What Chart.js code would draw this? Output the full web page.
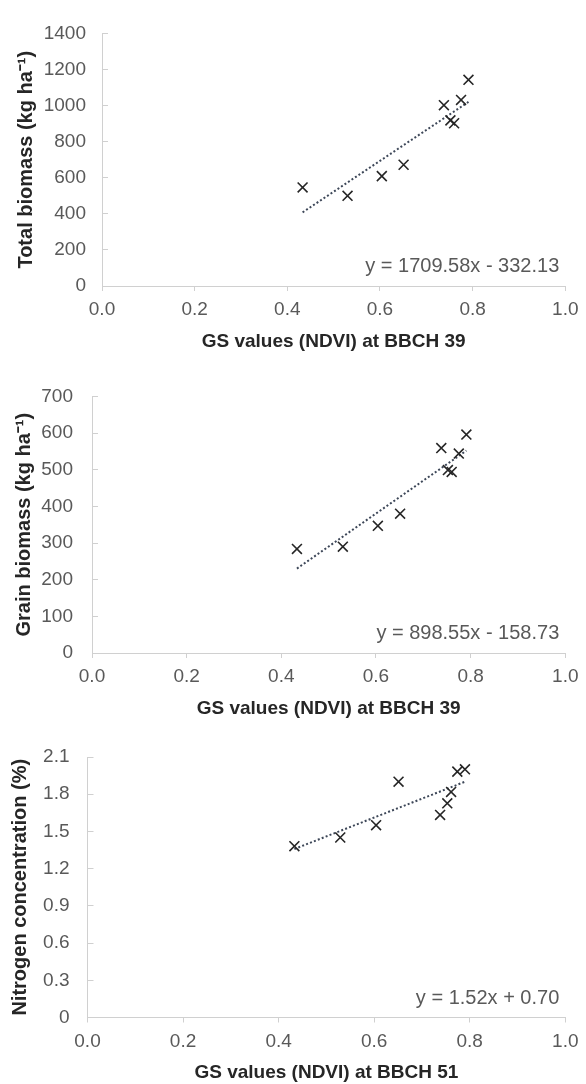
<!DOCTYPE html>
<html>
<head>
<meta charset="utf-8">
<script src="https://cdn.jsdelivr.net/npm/chart.js@4.4.1/dist/chart.umd.min.js"></script>
<style>
  body { margin: 0; background: #fff; }
  .box { position: absolute; left: 0; width: 586px; }
</style>
</head>
<body>
<div class="box" style="top:0px;height:360px"><canvas id="totalBiomass" width="586" height="360"></canvas></div>
<div class="box" style="top:360px;height:360px"><canvas id="grainBiomass" width="586" height="360"></canvas></div>
<div class="box" style="top:720px;height:364px"><canvas id="nitrogen" width="586" height="364"></canvas></div>
<script>
// data
const ndvi39 = [0.433, 0.530, 0.604, 0.651, 0.738, 0.752, 0.760, 0.775, 0.791];
const ndvi51 = [0.433, 0.529, 0.604, 0.651, 0.738, 0.753, 0.761, 0.774, 0.790];
const totalBiomass = [546, 500, 609, 672, 1002, 918, 902, 1031, 1143];
const grainBiomass = [284, 290, 347, 380, 559, 499, 494, 544, 596];
const nitrogenConc = [1.381, 1.451, 1.550, 1.901, 1.633, 1.727, 1.818, 1.982, 2.001];

// trendline coefficients [slope, intercept]
const totalFit = [1709.58, -332.13];
const grainFit = [898.55, -158.73];
const nitrogenFit = [1.52, 0.70];

const xTicks = [0, 0.2, 0.4, 0.6, 0.8, 1.0];

const FONT = "'Liberation Sans', Arial, sans-serif";
Chart.defaults.font.family = FONT;
Chart.defaults.font.size = 19;
Chart.defaults.color = '#595959';

const eqLabel = {
    id: 'eqLabel',
    afterDatasetsDraw(chart, args, opts) {
        const {ctx, chartArea} = chart;
        ctx.save();
        ctx.font = '20px ' + FONT;
        ctx.fillStyle = '#595959';
        ctx.textAlign = 'right';
        ctx.textBaseline = 'middle';
        ctx.fillText(opts.text, chartArea.right - 6, chartArea.bottom - 19.5);
        ctx.restore();
    }
};

function eqText(fit) {
    const b = fit[1];
    return 'y = ' + fit[0].toFixed(2) + 'x ' + (b < 0 ? '-' : '+') + ' ' + Math.abs(b).toFixed(2);
}

function makeChart(id, xs, ys, fit, yMax, yStep, yFmt, yTitle, xTitle, geo) {
    const pts = xs.map((x, i) => ({x: x, y: ys[i]}));
    const x0 = Math.min(...xs), x1 = Math.max(...xs);
    const line = [{x: x0, y: fit[0] * x0 + fit[1]}, {x: x1, y: fit[0] * x1 + fit[1]}];
    return new Chart(document.getElementById(id), {
        type: 'scatter',
        data: {
            datasets: [{
                data: pts,
                pointStyle: 'crossRot',
                pointRadius: 7,
                pointHoverRadius: 7,
                borderColor: '#262626',
                backgroundColor: '#262626',
                pointBorderWidth: 1.6,
                order: 1
            }, {
                type: 'line',
                data: line,
                borderColor: '#3d4758',
                borderWidth: 2,
                borderDash: [2, 2.2],
                pointRadius: 0,
                fill: false,
                order: 2
            }]
        },
        options: {
            responsive: false,
            animation: false,
            layout: {padding: {top: geo.top, bottom: geo.bottom, left: geo.left, right: 16}},
            plugins: {
                legend: {display: false},
                tooltip: {enabled: false},
                eqLabel: {text: eqText(fit)}
            },
            scales: {
                x: {
                    type: 'linear',
                    min: 0,
                    max: 1,
                    afterBuildTicks: (s) => { s.ticks = xTicks.map(v => ({value: v})); },
                    afterFit: (s) => { s.height = geo.xHeight; },
                    ticks: {padding: 7.5, callback: (v) => v.toFixed(1)},
                    grid: {drawOnChartArea: false, drawTicks: true, tickLength: 5, color: '#d0d0d0'},
                    border: {display: true, color: '#d0d0d0'},
                    title: {display: true, text: xTitle, color: '#262626', padding: 0,
                        font: {size: 19, weight: 'bold'}}
                },
                y: {
                    min: 0,
                    max: yMax,
                    afterFit: (s) => { s.width = geo.yWidth; },
                    ticks: {stepSize: yStep, padding: geo.labelPad, callback: yFmt},
                    grid: {drawOnChartArea: false, drawTicks: true, tickLength: -6, color: '#d0d0d0'},
                    border: {display: true, color: '#d0d0d0'},
                    title: {display: true, text: yTitle, color: '#262626', padding: 0,
                        font: {size: 20, weight: 'bold'}}
                }
            }
        },
        plugins: [eqLabel]
    });
}

const intFmt = (v) => String(Math.round(v));
const decFmt = (v) => (Math.abs(v) < 1e-9 ? '0' : v.toFixed(1));

makeChart('totalBiomass', ndvi39, totalBiomass, totalFit, 1400, 200, intFmt,
    'Total biomass (kg ha\u207B\u00B9)', 'GS values (NDVI) at BBCH 39',
    {top: 25, bottom: 6.6, left: 14, yWidth: 88, xHeight: 67.4, labelPad: 22});

makeChart('grainBiomass', ndvi39, grainBiomass, grainFit, 700, 100, intFmt,
    'Grain biomass (kg ha\u207B\u00B9)', 'GS values (NDVI) at BBCH 39',
    {top: 31, bottom: 0, left: 12, yWidth: 80, xHeight: 67, labelPad: 25});

makeChart('nitrogen', ndvi51, nitrogenConc, nitrogenFit, 2.1, 0.3, decFmt,
    'Nitrogen concentration (%)', 'GS values (NDVI) at BBCH 51',
    {top: 37, bottom: 0, left: 8.5, yWidth: 79, xHeight: 66.5, labelPad: 24});
</script>
</body>
</html>
